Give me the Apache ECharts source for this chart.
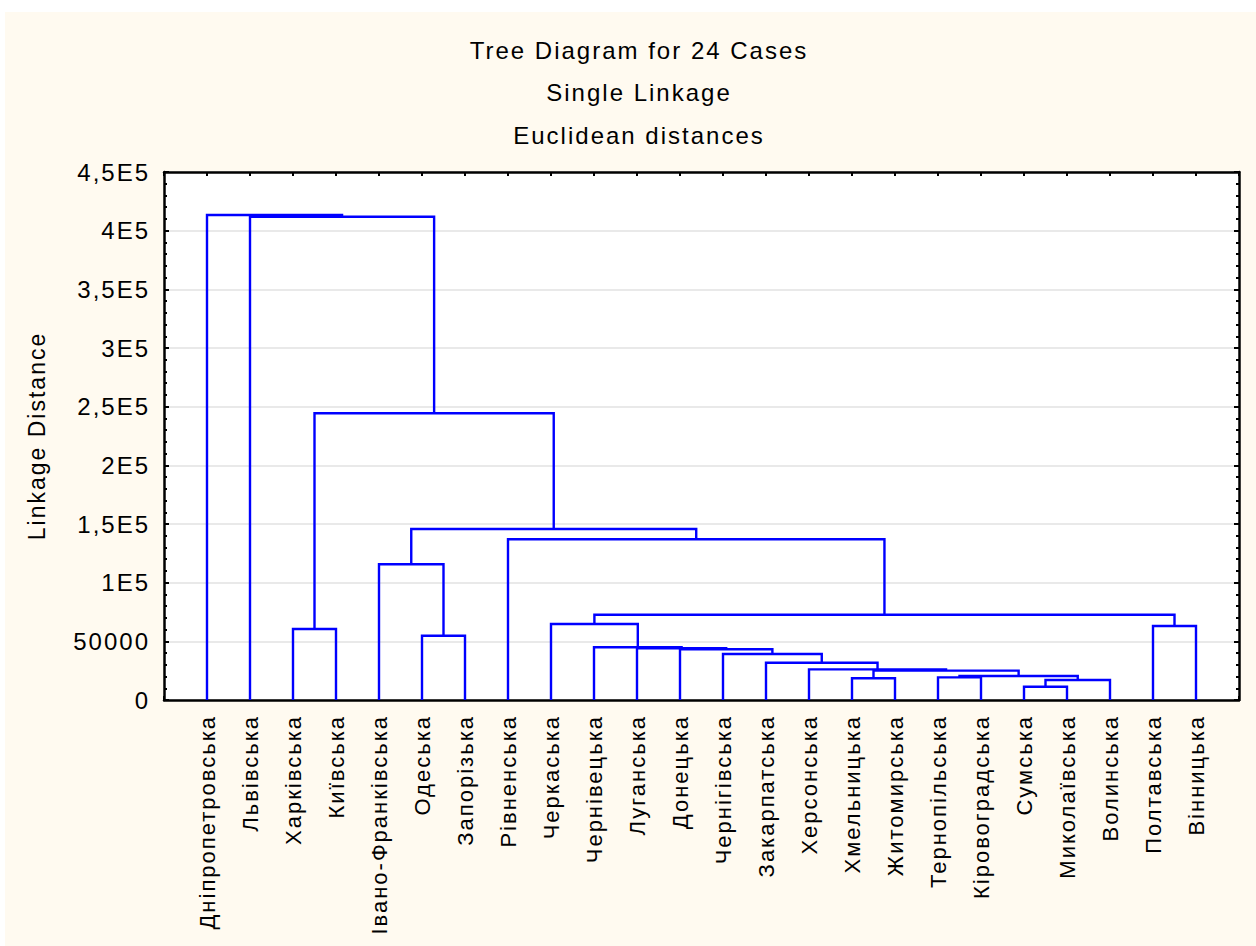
<!DOCTYPE html>
<html><head><meta charset="utf-8">
<script src="https://cdn.jsdelivr.net/npm/echarts@6/dist/echarts.min.js"></script>
<style>
html,body{margin:0;padding:0;background:#fff;}
#bg{position:absolute;left:5px;top:12px;right:0;bottom:0;background:#FFFAF0;}
#chart{position:absolute;left:0;top:0;width:1256px;height:946px;}
#chart svg text{letter-spacing:2px;}
</style></head><body>
<div id="bg"></div><div id="chart"></div>
<script>
// Leaves in dendrogram order
const categories = ['Дніпропетровська','Львівська','Харківська','Київська','Івано-Франківська','Одеська','Запорізька','Рівненська','Черкаська','Чернівецька','Луганська','Донецька','Чернігівська','Закарпатська','Херсонська','Хмельницька','Житомирська','Тернопільська','Кіровоградська','Сумська','Миколаївська','Волинська','Полтавська','Вінницька'];
// Merge steps: child ids (<24 leaf index, >=24 is merge number + 24)
const mergeLeft  = [19, 24, 15, 17, 27, 26, 14, 13, 12, 11, 10, 9, 5, 2, 22, 8, 39, 4, 7, 41, 37, 1, 0];
const mergeRight = [20, 21, 16, 18, 25, 28, 29, 30, 31, 32, 33, 34, 6, 3, 23, 35, 38, 36, 40, 42, 43, 44, 45];
const mergeHeights = [11300, 17000, 18500, 19300, 20500, 25000, 26100, 31800, 39200, 43200, 44100, 44900, 54800, 60500, 63100, 64800, 72700, 115700, 137000, 145700, 244400, 411900, 413300];
const yTickLabels = ['0','50000','1E5','1,5E5','2E5','2,5E5','3E5','3,5E5','4E5','4,5E5'];

const FONT = "'Liberation Sans', Arial, sans-serif";
const n = categories.length;
const pos = categories.map((_, i) => i + 1);
const hgt = categories.map(() => 0);
const links = [];
mergeHeights.forEach((h, k) => {
  const a = mergeLeft[k], b = mergeRight[k];
  pos[n + k] = (pos[a] + pos[b]) / 2;
  hgt[n + k] = h;
  links.push([pos[a], hgt[a], pos[b], hgt[b], h]);
});

const axisLine = {show: true, onZero: false, lineStyle: {color: '#000', width: 2.5}};
const xTick = {show: true, inside: true, length: 4, lineStyle: {color: '#000', width: 2}};
const yTick = {show: true, inside: true, length: 5, lineStyle: {color: '#000', width: 2}};
const yMinor = {show: true, splitNumber: 5, length: 3, lineStyle: {color: '#000', width: 2}};

const chart = echarts.init(document.getElementById('chart'), null, {renderer: 'svg', width: 1256, height: 946});
chart.setOption({
  animation: false,
  title: {
    text: 'Tree Diagram for 24 Cases\nSingle Linkage\nEuclidean distances',
    left: 639, top: 29, textAlign: 'center', padding: 0,
    textStyle: {fontSize: 24, fontWeight: 'normal', color: '#000', lineHeight: 42.5, fontFamily: FONT}
  },
  grid: {left: 164, top: 172, right: 17, bottom: 246, show: true, backgroundColor: '#fff', borderWidth: 0},
  xAxis: [
    {type: 'value', min: 0, max: 25, interval: 1, position: 'bottom',
     axisLine: axisLine, axisTick: xTick, splitLine: {show: false},
     axisLabel: {rotate: 90, margin: 15, fontSize: 22, color: '#000', fontFamily: FONT,
       formatter: v => { const i = Math.round(v) - 1; return (i >= 0 && i < n) ? categories[i] : ''; }}},
    {type: 'value', min: 0, max: 25, interval: 1, position: 'top',
     axisLine: axisLine, axisTick: xTick, splitLine: {show: false}, axisLabel: {show: false}}
  ],
  yAxis: [
    {type: 'value', min: 0, max: 450000, interval: 50000, position: 'left',
     name: 'Linkage Distance', nameLocation: 'middle', nameGap: 116,
     nameTextStyle: {fontSize: 23, color: '#000', fontFamily: FONT},
     axisLine: axisLine, axisTick: yTick, minorTick: yMinor,
     axisLabel: {margin: 14, fontSize: 24, color: '#000', fontFamily: FONT,
       formatter: v => yTickLabels[Math.round(v / 50000)]},
     splitLine: {show: true, lineStyle: {color: '#e2e2e2', width: 1.5}}},
    {type: 'value', min: 0, max: 450000, interval: 50000, position: 'right',
     axisLine: axisLine, axisTick: yTick, minorTick: yMinor,
     axisLabel: {show: false}, splitLine: {show: false}}
  ],
  series: [{
    type: 'custom',
    silent: true,
    xAxisIndex: 0, yAxisIndex: 0,
    encode: {x: [0, 2], y: [1, 3, 4]},
    data: links,
    renderItem: function (params, api) {
      const p1 = api.coord([api.value(0), api.value(1)]);
      const p2 = api.coord([api.value(0), api.value(4)]);
      const p3 = api.coord([api.value(2), api.value(4)]);
      const p4 = api.coord([api.value(2), api.value(3)]);
      return {type: 'polyline', shape: {points: [p1, p2, p3, p4]},
              style: {stroke: '#0000ff', lineWidth: 2.4, fill: null}};
    }
  }]
});
</script>
</body></html>
